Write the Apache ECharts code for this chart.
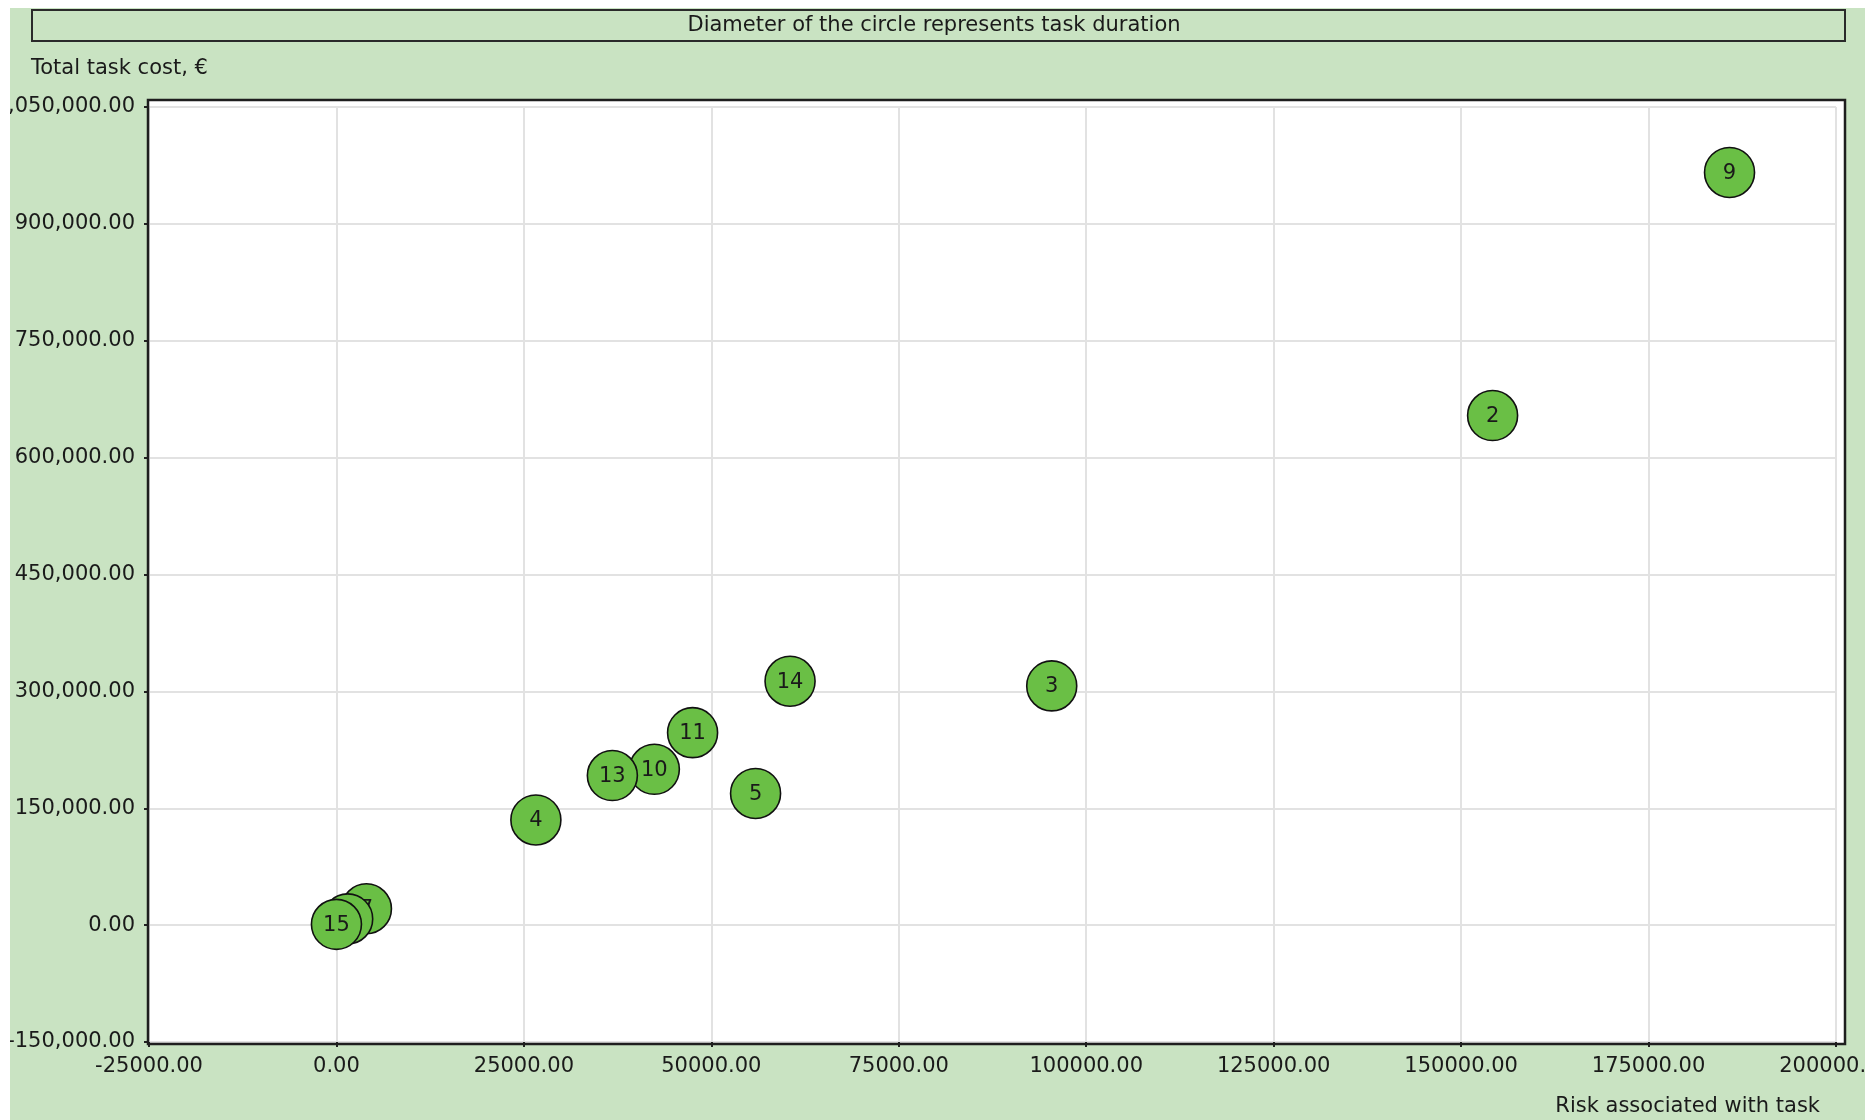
<!DOCTYPE html>
<html>
<head>
<meta charset="utf-8">
<script src="https://cdn.jsdelivr.net/npm/echarts@6/dist/echarts.min.js"></script>
<style>
  html, body { margin: 0; padding: 0; background: #ffffff; }
  #chart { position: absolute; left: 10px; top: 8px; width: 1855px; height: 1112px; }
</style>
</head>
<body>
<div id="chart"></div>
<script>
// Task bubbles: risk (x) against total cost (y); drawn in task order so later tasks sit on top.
const taskIds     = ['2', '3', '4', '5', '7', '9', '10', '11', '12', '13', '14', '15'];
const riskValues  = [154200, 95400, 26600, 55900, 4000, 185800, 42400, 47500, 1500, 36800, 60500, 0];
const costValues  = [654000, 307000, 135000, 169000, 21000, 966000, 200000, 247000, 8000, 192000, 313000, 1000];

// Axis ticks
const xTicks = [-25000, 0, 25000, 50000, 75000, 100000, 125000, 150000, 175000, 200000];
const yTicks = [-150000, 0, 150000, 300000, 450000, 600000, 750000, 900000, 1050000];

const titleText = 'Diameter of the circle represents task duration';
const yAxisTitle = 'Total task cost, €';
const xAxisTitle = 'Risk associated with task';

const FONT = '"DejaVu Sans", "Liberation Sans", sans-serif';
const FONT_SIZE = 21;
const TEXT_COLOR = '#1a1a1a';
const PANEL_GREEN = '#c9e3c2';
const BUBBLE_GREEN = '#6abf45';

const chart = echarts.init(document.getElementById('chart'), null, { renderer: 'canvas' });

const gridBox = { left: 139, top: 99, width: 1687, height: 935 };

const tickStyle = { show: true, inside: false, length: 5, lineStyle: { color: '#222', width: 2 } };
const gridLineStyle = { show: true, lineStyle: { color: '#e2e2e2', width: 2 } };

chart.setOption({
  animation: false,
  backgroundColor: PANEL_GREEN,
  grid: {
    left: gridBox.left, top: gridBox.top, width: gridBox.width, height: gridBox.height,
    containLabel: false,
    outerBoundsMode: 'none'
  },
  xAxis: {
    type: 'value',
    min: xTicks[0],
    max: xTicks[xTicks.length - 1],
    interval: xTicks[1] - xTicks[0],
    axisLine: { show: false, onZero: false },
    axisTick: tickStyle,
    axisLabel: {
      margin: 14,
      color: TEXT_COLOR,
      fontFamily: FONT,
      fontSize: FONT_SIZE,
      hideOverlap: false,
      formatter: v => v.toFixed(2)
    },
    splitLine: gridLineStyle
  },
  yAxis: {
    type: 'value',
    min: yTicks[0],
    max: yTicks[yTicks.length - 1],
    interval: yTicks[1] - yTicks[0],
    axisLine: { show: false, onZero: false },
    axisTick: tickStyle,
    axisLabel: {
      margin: 14,
      color: TEXT_COLOR,
      fontFamily: FONT,
      fontSize: FONT_SIZE,
      hideOverlap: false,
      formatter: v => v.toLocaleString('en-US', { minimumFractionDigits: 2, maximumFractionDigits: 2 })
    },
    splitLine: gridLineStyle
  },
  graphic: [
    // plot background
    {
      type: 'rect', z: -10, silent: true,
      shape: { x: 138, y: 92, width: 1697, height: 944 },
      style: { fill: '#ffffff' }
    },
    // plot frame
    {
      type: 'rect', z: 1, silent: true,
      shape: { x: 138, y: 92, width: 1697, height: 944 },
      style: { fill: 'none', stroke: '#1e1e1e', lineWidth: 2.5 }
    },
    // caption box
    {
      type: 'rect', silent: true,
      shape: { x: 22, y: 2, width: 1813, height: 31 },
      style: { fill: PANEL_GREEN, stroke: '#2a2a2a', lineWidth: 2 }
    },
    {
      type: 'text', silent: true, x: 924, y: 18,
      style: { text: titleText, fill: TEXT_COLOR, font: FONT_SIZE + 'px ' + FONT, align: 'center', verticalAlign: 'middle' }
    },
    {
      type: 'text', silent: true, x: 21, y: 61,
      style: { text: yAxisTitle, fill: TEXT_COLOR, font: FONT_SIZE + 'px ' + FONT, align: 'left', verticalAlign: 'middle' }
    },
    {
      type: 'text', silent: true, x: 1810, y: 1099,
      style: { text: xAxisTitle, fill: TEXT_COLOR, font: FONT_SIZE + 'px ' + FONT, align: 'right', verticalAlign: 'middle' }
    }
  ],
  series: [{
    type: 'custom',
    coordinateSystem: 'cartesian2d',
    data: taskIds.map((id, i) => [riskValues[i], costValues[i]]),
    encode: { x: 0, y: 1 },
    renderItem: function (params, api) {
      const p = api.coord([api.value(0), api.value(1)]);
      return {
        type: 'group',
        children: [
          {
            type: 'circle',
            shape: { cx: p[0], cy: p[1], r: 25 },
            style: { fill: BUBBLE_GREEN, stroke: '#111', lineWidth: 1.6 }
          },
          {
            type: 'text',
            x: p[0], y: p[1] + 1,
            style: {
              text: taskIds[params.dataIndex],
              fill: TEXT_COLOR,
              font: FONT_SIZE + 'px ' + FONT,
              align: 'center',
              verticalAlign: 'middle'
            }
          }
        ]
      };
    }
  }]
});
</script>
</body>
</html>
